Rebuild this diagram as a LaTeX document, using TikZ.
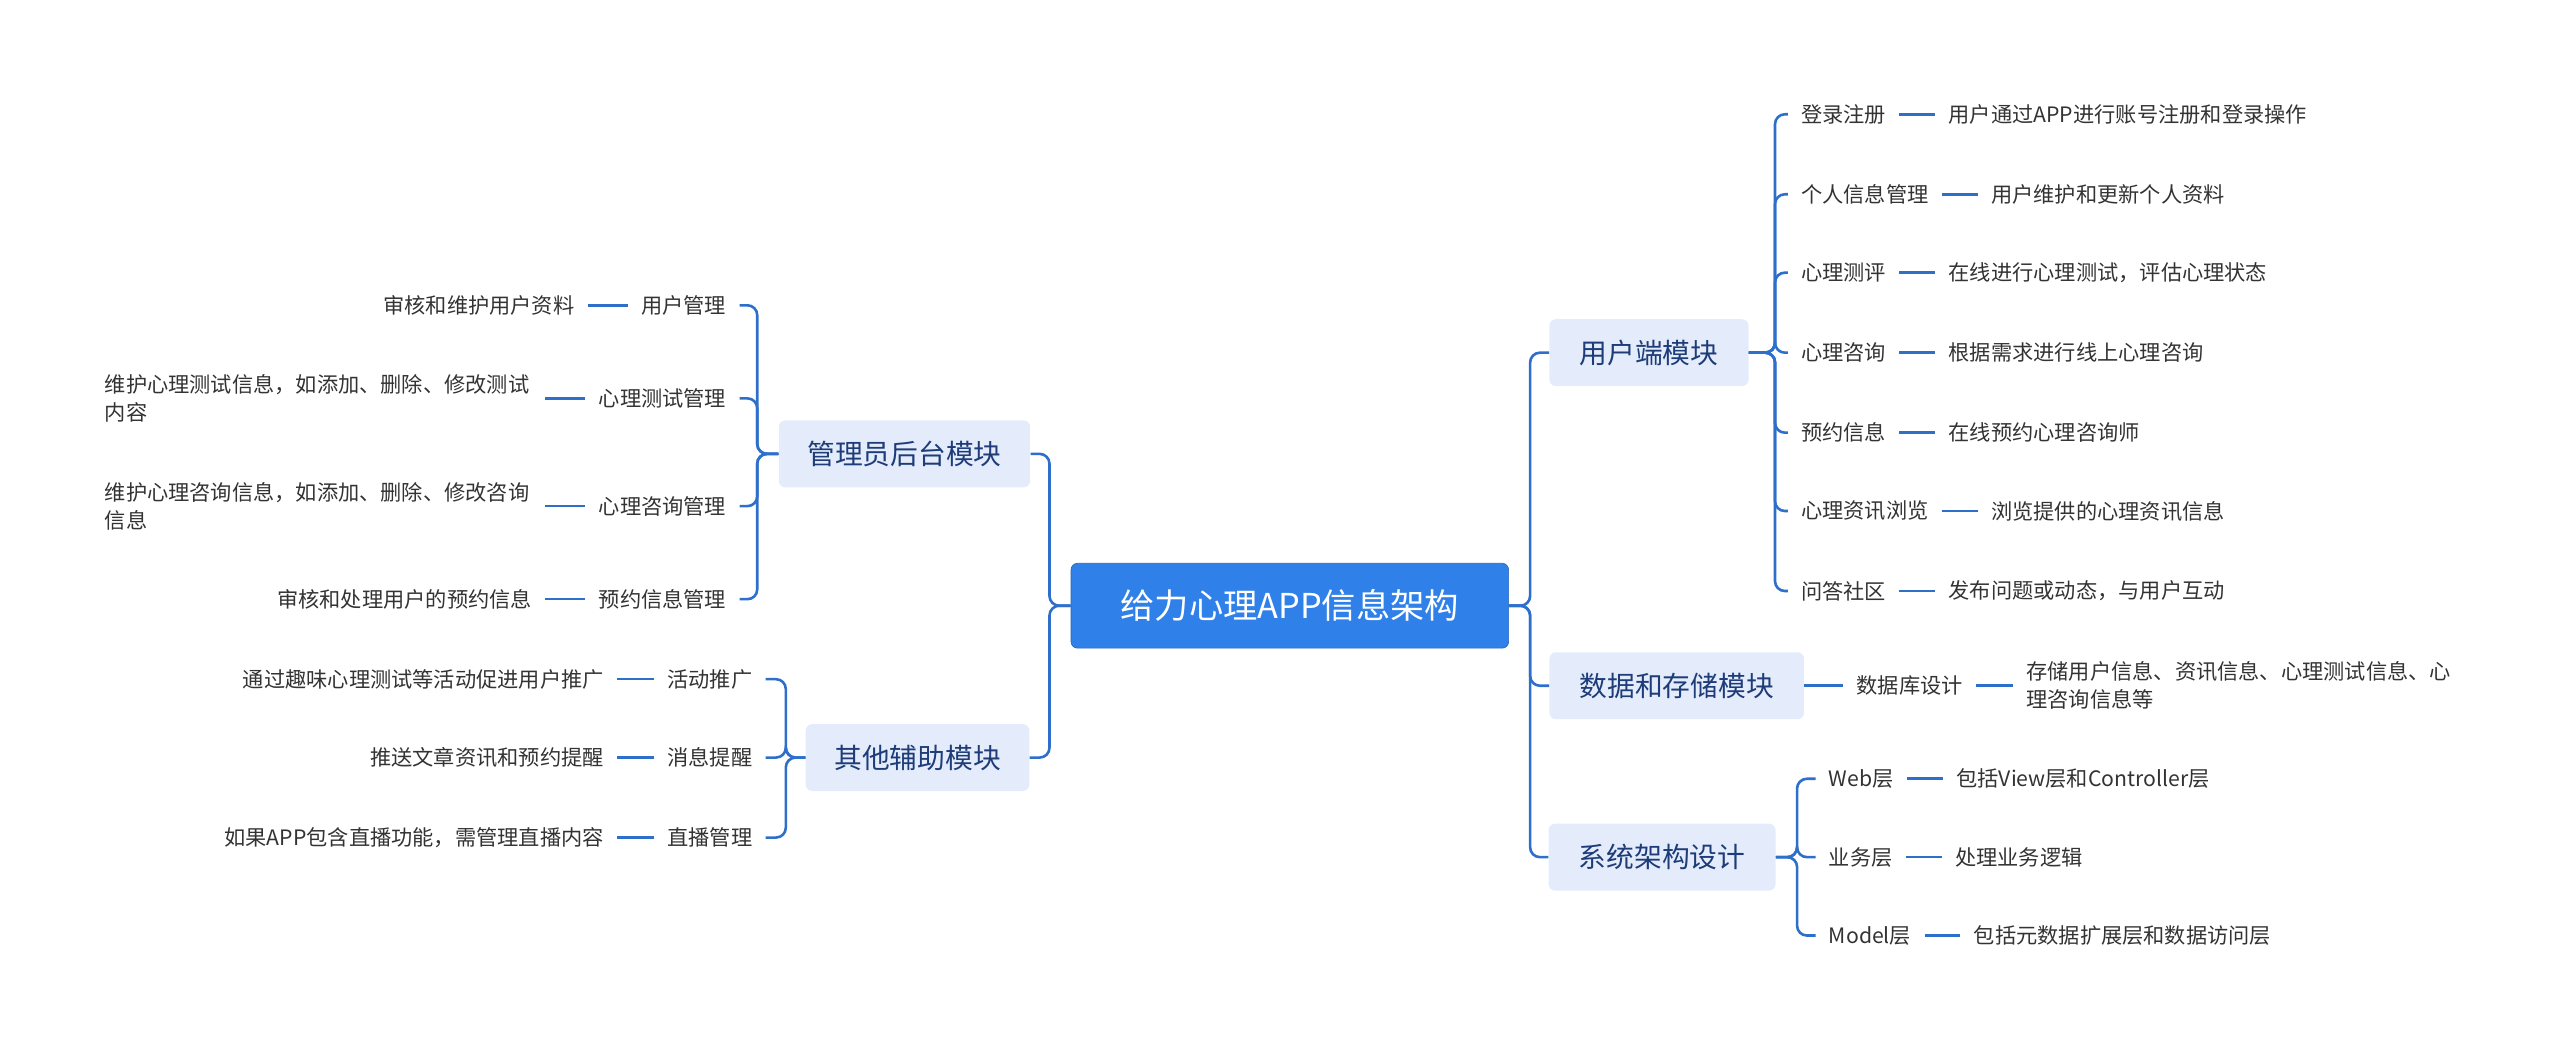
\documentclass[tikz,border=0pt]{standalone}
\usepackage{fontspec}
\setmainfont{Noto Sans CJK SC}
\definecolor{ln}{HTML}{2F6FCC}
\definecolor{rootc}{HTML}{2F80E8}
\definecolor{lvf}{HTML}{E4ECFC}
\definecolor{lvt}{HTML}{1D3C78}
\definecolor{tx}{HTML}{333333}
\begin{document}
\begin{tikzpicture}[x=1pt,y=-1pt,
 rootbox/.style={fill=rootc,draw=rootc!80!black,rounded corners=4,text=white,font=\fontsize{21}{25}\selectfont,minimum width=268,minimum height=52},
 lvbox/.style={fill=lvf,rounded corners=4,text=lvt,font=\fontsize{17}{20}\selectfont,minimum height=41,inner xsep=14},
 leaf/.style={text=tx,font=\fontsize{13}{17}\selectfont,inner xsep=8,inner ysep=2},
 con/.style={draw=ln,line width=1.6pt,rounded corners=6}]
\useasboundingbox (0,0) rectangle (1568,645);
\node[rootbox] (root) at (790,371) {给力心理APP信息架构};
\node[lvbox,minimum width=154] (a) at (554,278) {管理员后台模块};
\node[lvbox,minimum width=137] (b) at (562,464) {其他辅助模块};
\node[lvbox,minimum width=122] (u) at (1010,216) {用户端模块};
\node[lvbox,minimum width=156] (d) at (1027,420) {数据和存储模块};
\node[lvbox,minimum width=139] (s) at (1018,525) {系统架构设计};
\foreach \n in {a,b} \draw[con] (root.west) -- ++(-13,0) |- (\n.east);
\foreach \n in {u,d,s} \draw[con] (root.east) -- ++(13,0) |- (\n.west);
% admin
\node[leaf,anchor=east] (a1) at (453,187) {用户管理};
\node[leaf,anchor=east] (a2) at (453,244) {心理测试管理};
\node[leaf,anchor=east] (a3) at (453,310) {心理咨询管理};
\node[leaf,anchor=east] (a4) at (453,367) {预约信息管理};
\foreach \n in {a1,a2,a3,a4} \draw[con] (a.west) -- ++(-13,0) |- (\n.east);
\node[leaf,anchor=east] (a1d) at (360,187) {审核和维护用户资料};
\node[leaf,anchor=west,align=left,text width=262] (a2d) at (56,244) {维护心理测试信息，如添加、删除、修改测试\\内容};
\node[leaf,anchor=west,align=left,text width=262] (a3d) at (56,310) {维护心理咨询信息，如添加、删除、修改咨询\\信息};
\node[leaf,anchor=east] (a4d) at (334,367) {审核和处理用户的预约信息};
\draw[con] (a1.west) -- (a1d.east);
\draw[con] (a2.west) -- (334,244);
\draw[con] (a3.west) -- (334,310);
\draw[con] (a4.west) -- (a4d.east);
% other
\node[leaf,anchor=east] (b1) at (469,416) {活动推广};
\node[leaf,anchor=east] (b2) at (469,464) {消息提醒};
\node[leaf,anchor=east] (b3) at (469,513) {直播管理};
\foreach \n in {b1,b2,b3} \draw[con] (b.west) -- ++(-12,0) |- (\n.east);
\node[leaf,anchor=east] (b1d) at (378,416) {通过趣味心理测试等活动促进用户推广};
\node[leaf,anchor=east] (b2d) at (378,464) {推送文章资讯和预约提醒};
\node[leaf,anchor=east] (b3d) at (378,513) {如果APP包含直播功能，需管理直播内容};
\foreach \n in {b1,b2,b3} \draw[con] (\n.west) -- (\n d.east);
% user
\foreach \i/\t/\d/\y in {1/登录注册/用户通过APP进行账号注册和登录操作/70,2/个人信息管理/用户维护和更新个人资料/119,3/心理测评/在线进行心理测试，评估心理状态/167,4/心理咨询/根据需求进行线上心理咨询/216,5/预约信息/在线预约心理咨询师/265,6/心理资讯浏览/浏览提供的心理资讯信息/313,7/问答社区/发布问题或动态，与用户互动/362}{
 \node[leaf,anchor=west] (u\i) at (1095,\y) {\t};
 \draw[con] (u.east) -- ++(16,0) |- (u\i.west);
 \node[leaf,anchor=west] (u\i d) at ([xshift=22]u\i.east) {\d};
 \draw[con] (u\i.east) -- (u\i d.west);
}
% data
\node[leaf,anchor=west] (d1) at (1129,420) {数据库设计};
\draw[con] (d.east) -- (d1.west);
\node[leaf,anchor=west,align=left,text width=264] (d1d) at (1233,420) {存储用户信息、资讯信息、心理测试信息、心\\理咨询信息等};
\draw[con] (d1.east) -- (d1d.west);
% system
\foreach \i/\t/\d/\y in {1/Web层/包括View层和Controller层/477,2/业务层/处理业务逻辑/525,3/Model层/包括元数据扩展层和数据访问层/573}{
 \node[leaf,anchor=west] (s\i) at (1112,\y) {\t};
 \draw[con] (s.east) -- ++(13,0) |- (s\i.west);
 \node[leaf,anchor=west] (s\i d) at ([xshift=22]s\i.east) {\d};
 \draw[con] (s\i.east) -- (s\i d.west);
}
\end{tikzpicture}
\end{document}
